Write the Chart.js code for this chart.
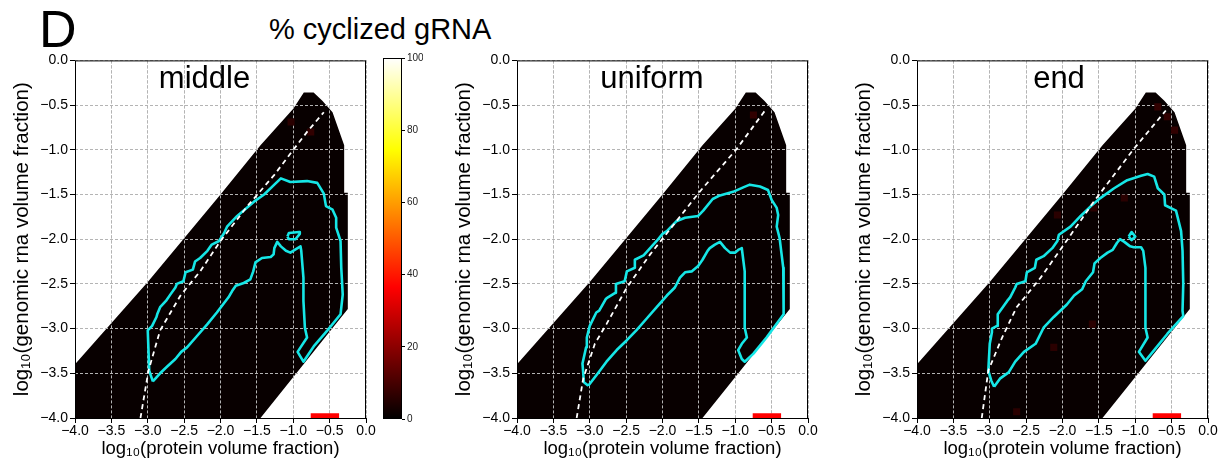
<!DOCTYPE html>
<html>
<head>
<meta charset="utf-8">
<script src="https://cdn.jsdelivr.net/npm/chart.js@4.4.0/dist/chart.umd.min.js"></script>
<style>
  body { margin: 0; width: 1218px; height: 460px; background: #fff; position: relative; overflow: hidden;
         font-family: "Liberation Sans", Arial, sans-serif; }
  canvas { position: absolute; }
  #letter { position: absolute; left: 39px; top: 3px; font-size: 52px; line-height: 52px; }
  #maintitle { position: absolute; left: 269px; top: 15px; font-size: 29px; line-height: 29px; }
</style>
</head>
<body>
<div id="letter">D</div>
<div id="maintitle">% cyclized gRNA</div>
<canvas id="p1" width="380" height="410" style="left:0px;top:50px"></canvas>
<canvas id="cbar" width="40" height="410" style="left:383px;top:50px"></canvas>
<canvas id="p2" width="380" height="410" style="left:442px;top:50px"></canvas>
<canvas id="p3" width="380" height="410" style="left:842px;top:50px"></canvas>
<script>
// data (log10 units)
const axisTicks = [-4, -3.5, -3, -2.5, -2, -1.5, -1, -0.5, 0];
const colorbarTicks = [0, 20, 40, 60, 80, 100];

// outline of the simulated (dark) domain
const regionX = [-4, -4, -3.0, -2.0, -1.45, -1.0, -0.855, -0.72, -0.60, -0.46, -0.30, -0.30, -0.25, -0.25, -1.45, -4];
const regionY = [-4, -3.40, -2.48, -1.50, -0.95, -0.54, -0.36, -0.36, -0.45, -0.58, -0.95, -1.48, -1.48, -2.78, -4, -4];

const redBarX = [-0.76, -0.37];
const redBarY = [-3.975, -3.975];

const middleContour = [[-2.93,-3.59],[-2.98,-3.47],[-2.99,-3.24],[-3.00,-3.02],[-2.94,-2.97],[-2.88,-2.87],[-2.87,-2.84],[-2.83,-2.76],[-2.75,-2.69],[-2.69,-2.62],[-2.62,-2.54],[-2.60,-2.50],[-2.51,-2.47],[-2.48,-2.37],[-2.38,-2.34],[-2.35,-2.25],[-2.28,-2.21],[-2.18,-2.13],[-2.12,-2.06],[-2.02,-2.02],[-1.95,-1.93],[-1.91,-1.86],[-1.77,-1.74],[-1.54,-1.58],[-1.40,-1.50],[-1.26,-1.39],[-1.17,-1.32],[-1.04,-1.36],[-0.81,-1.35],[-0.67,-1.37],[-0.58,-1.49],[-0.55,-1.63],[-0.46,-1.67],[-0.41,-1.76],[-0.41,-1.87],[-0.35,-2.02],[-0.34,-2.32],[-0.32,-2.62],[-0.35,-2.84],[-0.53,-3.02],[-0.71,-3.19],[-0.86,-3.37],[-0.94,-3.26],[-0.90,-3.21],[-0.81,-3.10],[-0.84,-2.99],[-0.86,-2.69],[-0.86,-2.43],[-0.89,-2.13],[-0.90,-2.08],[-0.94,-2.10],[-1.04,-2.15],[-1.10,-2.13],[-1.17,-2.08],[-1.22,-2.03],[-1.26,-2.10],[-1.27,-2.17],[-1.31,-2.20],[-1.43,-2.21],[-1.52,-2.26],[-1.55,-2.36],[-1.59,-2.45],[-1.68,-2.49],[-1.79,-2.52],[-1.84,-2.58],[-1.89,-2.65],[-2.05,-2.82],[-2.18,-2.95],[-2.32,-3.08],[-2.46,-3.21],[-2.54,-3.26],[-2.62,-3.34],[-2.74,-3.43],[-2.83,-3.50],[-2.93,-3.59]];
const middleLoop = [[-1.08,-1.97],[-1.06,-1.93],[-0.92,-1.92],[-0.91,-1.94],[-0.97,-2.00],[-1.06,-2.00],[-1.08,-1.97]];
const middleDashed = [[-3.10,-4.0],[-2.99,-3.47],[-2.83,-3.02],[-2.55,-2.63],[-2.28,-2.36],[-2.00,-2.02],[-1.63,-1.63],[-1.26,-1.28],[-0.99,-0.99],[-0.81,-0.80],[-0.58,-0.58]];
const middleSpots = [[-1.03,-0.69,6],[-0.76,-0.80,7]];

const uniformContour = [[-3.02,-3.64],[-3.08,-3.60],[-3.10,-3.39],[-3.05,-3.21],[-3.04,-3.10],[-3.00,-2.97],[-2.91,-2.82],[-2.87,-2.80],[-2.78,-2.67],[-2.75,-2.65],[-2.65,-2.60],[-2.64,-2.50],[-2.52,-2.47],[-2.49,-2.36],[-2.38,-2.32],[-2.38,-2.23],[-2.26,-2.18],[-2.17,-2.10],[-2.08,-2.02],[-2.00,-1.94],[-1.94,-1.91],[-1.81,-1.80],[-1.69,-1.76],[-1.51,-1.74],[-1.44,-1.68],[-1.31,-1.55],[-1.21,-1.51],[-1.03,-1.47],[-0.89,-1.42],[-0.80,-1.39],[-0.66,-1.41],[-0.55,-1.45],[-0.50,-1.56],[-0.43,-1.65],[-0.41,-1.73],[-0.43,-1.86],[-0.39,-1.99],[-0.34,-2.32],[-0.33,-2.62],[-0.34,-2.84],[-0.57,-3.10],[-0.75,-3.28],[-0.87,-3.37],[-0.91,-3.34],[-0.96,-3.24],[-0.91,-3.17],[-0.84,-3.10],[-0.87,-2.99],[-0.87,-2.65],[-0.87,-2.36],[-0.89,-2.23],[-0.91,-2.10],[-0.96,-2.12],[-1.00,-2.15],[-1.07,-2.15],[-1.14,-2.10],[-1.21,-2.03],[-1.28,-2.06],[-1.35,-2.10],[-1.38,-2.13],[-1.45,-2.23],[-1.51,-2.30],[-1.60,-2.36],[-1.69,-2.37],[-1.76,-2.43],[-1.83,-2.54],[-1.94,-2.63],[-2.08,-2.76],[-2.22,-2.89],[-2.36,-3.02],[-2.49,-3.13],[-2.63,-3.24],[-2.77,-3.37],[-2.88,-3.49],[-3.02,-3.64]];
const uniformDashed = [[-3.18,-4.0],[-3.09,-3.56],[-2.93,-3.17],[-2.77,-2.95],[-2.49,-2.54],[-2.17,-2.17],[-1.81,-1.80],[-1.49,-1.47],[-0.98,-0.99],[-0.59,-0.56]];
const uniformSpots = [[-0.75,-0.61,7]];

const endContour = [[-2.94,-3.65],[-2.98,-3.58],[-3.02,-3.47],[-3.00,-3.17],[-2.97,-3.04],[-2.97,-3.00],[-2.90,-2.97],[-2.89,-2.84],[-2.76,-2.69],[-2.72,-2.65],[-2.65,-2.54],[-2.63,-2.50],[-2.51,-2.47],[-2.49,-2.37],[-2.38,-2.32],[-2.36,-2.23],[-2.26,-2.19],[-2.14,-2.10],[-2.07,-2.02],[-2.05,-1.95],[-1.89,-1.86],[-1.75,-1.74],[-1.61,-1.63],[-1.48,-1.54],[-1.29,-1.43],[-1.11,-1.34],[-0.92,-1.29],[-0.83,-1.27],[-0.74,-1.30],[-0.69,-1.43],[-0.60,-1.50],[-0.59,-1.62],[-0.44,-1.68],[-0.37,-1.91],[-0.35,-2.13],[-0.34,-2.50],[-0.35,-2.80],[-0.34,-2.86],[-0.56,-3.06],[-0.74,-3.24],[-0.86,-3.36],[-0.95,-3.26],[-0.83,-3.10],[-0.86,-2.99],[-0.86,-2.65],[-0.86,-2.32],[-0.89,-2.13],[-0.92,-2.09],[-1.02,-2.09],[-1.07,-2.08],[-1.15,-2.03],[-1.21,-2.00],[-1.25,-2.04],[-1.31,-2.12],[-1.38,-2.15],[-1.48,-2.21],[-1.56,-2.27],[-1.58,-2.37],[-1.68,-2.47],[-1.73,-2.56],[-1.84,-2.63],[-1.94,-2.73],[-2.12,-2.87],[-2.26,-2.99],[-2.37,-3.17],[-2.53,-3.26],[-2.65,-3.37],[-2.74,-3.49],[-2.86,-3.56],[-2.94,-3.65]];
const endLoop = [[-1.09,-1.97],[-1.05,-1.92],[-1.00,-1.97],[-1.05,-2.01],[-1.09,-1.97]];
const endDashed = [[-3.11,-4.0],[-3.02,-3.47],[-2.83,-3.10],[-2.63,-2.76],[-2.30,-2.43],[-1.98,-2.06],[-1.57,-1.58],[-1.02,-0.99],[-0.58,-0.56]];
const endSpots = [[-2.07,-1.73,6],[-1.57,-1.65,6],[-1.15,-1.54,6],[-0.69,-0.52,7],[-0.56,-0.63,7],[-0.46,-0.78,7],[-1.59,-2.95,6],[-2.12,-3.21,6],[-2.63,-3.93,6]];

const CYAN = '#16e6e6';
const fmt = v => (v < 0 ? '\u2212' : '') + Math.abs(v).toFixed(1);
const toPts = arr => arr.map(p => ({x: p[0], y: p[1]}));

// matplotlib "hot" colormap, value in percent
function hot(v) {
  const t = v / 100;
  const r = Math.min(1, t / 0.365), g = Math.min(1, Math.max(0, (t - 0.365) / 0.381)), b = Math.max(0, (t - 0.746) / 0.254);
  return `rgb(${Math.round(r * 255)},${Math.round(g * 255)},${Math.round(b * 255)})`;
}

const framePlugin = {
  id: 'frame',
  afterDatasetDraw(chart, args) {
    // redraw grid over the dark region, under the contour lines
    if (args.meta.label === 'region') {
      chart.scales.x.drawGrid(chart.chartArea);
      chart.scales.y.drawGrid(chart.chartArea);
    }
  },
  afterDraw(chart, args, opts) {
    const {ctx, chartArea: a} = chart;
    ctx.save();
    ctx.setLineDash([]);
    ctx.strokeStyle = '#000';
    ctx.lineWidth = 1;
    ctx.strokeRect(a.left + 0.5, a.top + 0.5, a.width - 1, a.height);
    if (opts.text) {
      ctx.fillStyle = '#000';
      ctx.font = '31px "Liberation Sans", Arial, sans-serif';
      ctx.textAlign = 'center';
      ctx.textBaseline = 'alphabetic';
      ctx.fillText(opts.text, a.left + opts.dx, a.top + 28);
    }
    ctx.restore();
  }
};

function axisOpts(isY, title, titleSize, titlePad) {
  return {
    type: 'linear', min: -4, max: 0,
    afterBuildTicks: s => { s.ticks = axisTicks.map(v => ({value: v})); },
    afterFit: s => { if (isY) s.width = 75; else s.height = 42; },
    ticks: { color: '#000', font: {size: 14, family: '"Liberation Sans", Arial'}, padding: isY ? 2 : 0,
             maxRotation: 0, autoSkip: false, callback: fmt },
    grid: { color: '#b4b4b4', lineWidth: 1, tickColor: '#000', tickLength: 5, tickBorderDash: [] },
    border: { display: false, dash: [3, 2] },
    title: { display: true, text: title, color: '#000', font: {size: titleSize, family: '"Liberation Sans", Arial'},
             padding: titlePad }
  };
}

function makePanel(id, name, dx, contour, loop, dashed, spots) {
  const datasets = [
    { label: 'red', data: redBarX.map((x, i) => ({x, y: redBarY[i]})), showLine: true, borderColor: '#ff0000',
      borderWidth: 5, pointRadius: 0, order: 0, borderCapStyle: 'butt' },
    { label: 'dashed', data: toPts(dashed), showLine: true, borderColor: '#ffffff', borderWidth: 1.8,
      borderDash: [5, 4], pointRadius: 0, order: 1 },
    { label: 'contour', data: toPts(contour), showLine: true, borderColor: CYAN, borderWidth: 2.6,
      pointRadius: 0, order: 2, borderJoinStyle: 'round' },
    { label: 'spots', data: toPts(spots), pointStyle: 'rect', pointRadius: 5, borderWidth: 0,
      backgroundColor: spots.map(s => hot(s[2])), order: 8 },
    { label: 'region', data: regionX.map((x, i) => ({x, y: regionY[i]})), showLine: true, borderWidth: 0,
      borderColor: 'rgba(0,0,0,0)', backgroundColor: '#080000', fill: 'shape', pointRadius: 0, order: 9 }
  ];
  if (loop) datasets.push({ label: 'loop', data: toPts(loop), showLine: true, borderColor: CYAN, borderWidth: 2.6,
    pointRadius: 0, order: 2, borderJoinStyle: 'round' });
  new Chart(document.getElementById(id), {
    type: 'scatter',
    data: { datasets },
    options: {
      responsive: false, animation: false, devicePixelRatio: 1,
      layout: { padding: { top: 8, right: 14, left: 0, bottom: 0 } },
      plugins: { legend: { display: false }, tooltip: { enabled: false }, frame: { text: name, dx } },
      scales: {
        x: axisOpts(false, 'log\u2081\u2080(protein volume fraction)', 18.5, {top: 0, bottom: 0}),
        y: axisOpts(true, 'log\u2081\u2080(genomic rna volume fraction)', 20.5, {top: 10, bottom: 0})
      }
    },
    plugins: [framePlugin]
  });
}

makePanel('p1', 'middle', 129.5, middleContour, middleLoop, middleDashed, middleSpots);
makePanel('p2', 'uniform', 135, uniformContour, null, uniformDashed, uniformSpots);
makePanel('p3', 'end', 142, endContour, endLoop, endDashed, endSpots);

// colorbar
new Chart(document.getElementById('cbar'), {
  type: 'scatter',
  data: { datasets: [{ data: [] }] },
  options: {
    responsive: false, animation: false, devicePixelRatio: 1,
    layout: { padding: { top: 8, bottom: 41, left: 0, right: 0 } },
    plugins: { legend: { display: false }, tooltip: { enabled: false } },
    scales: {
      x: { display: false, min: 0, max: 1 },
      y: { position: 'right', min: 0, max: 100,
           afterBuildTicks: s => { s.ticks = colorbarTicks.map(v => ({value: v})); },
           afterFit: s => { s.width = 21; },
           ticks: { color: '#222', font: {size: 10, family: '"Liberation Sans", Arial'}, padding: 2 },
           grid: { drawOnChartArea: false, tickColor: '#000', tickLength: 3 },
           border: { display: false } }
    }
  },
  plugins: [{
    id: 'gradientFill',
    beforeDatasetsDraw(chart) {
      const {ctx, chartArea: a} = chart;
      const g = ctx.createLinearGradient(0, a.bottom, 0, a.top);
      g.addColorStop(0, '#000000');
      g.addColorStop(0.365, '#ff0000');
      g.addColorStop(0.746, '#ffff00');
      g.addColorStop(1, '#ffffff');
      ctx.save();
      ctx.fillStyle = g;
      ctx.fillRect(a.left, a.top, a.width, a.height);
      ctx.strokeStyle = '#000';
      ctx.lineWidth = 1;
      ctx.strokeRect(a.left + 0.5, a.top + 0.5, a.width - 1, a.height - 1);
      ctx.restore();
    }
  }]
});
</script>
</body>
</html>
